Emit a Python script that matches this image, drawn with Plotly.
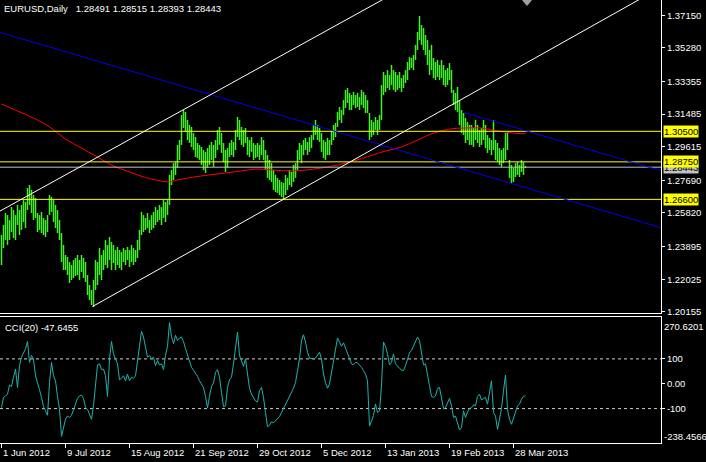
import plotly.graph_objects as go

# ---------------- data ----------------
high = [
1.2456,1.2513,1.2582,1.2570,1.2542,1.2616,1.2599,1.2570,1.2628,1.2599,
1.2628,1.2656,1.2645,1.2725,1.2742,1.2714,1.2685,1.2668,1.2582,1.2570,
1.2588,1.2553,1.2542,1.2570,1.2685,1.2674,1.2656,1.2628,1.2599,1.2542,
1.2467,1.2399,1.2341,1.2330,1.2301,1.2284,1.2313,1.2324,1.2341,1.2313,
1.2341,1.2324,1.2301,1.2226,1.2169,1.2141,1.2198,1.2313,1.2301,1.2381,
1.2341,1.2370,1.2427,1.2399,1.2444,1.2416,1.2399,1.2370,1.2387,1.2370,
1.2358,1.2381,1.2370,1.2387,1.2370,1.2399,1.2381,1.2370,1.2427,1.2485,
1.2588,1.2570,1.2553,1.2582,1.2542,1.2570,1.2588,1.2616,1.2599,1.2628,
1.2616,1.2656,1.2645,1.2656,1.2800,1.2828,1.2868,1.2874,1.2972,1.3000,
1.3143,1.3172,1.3161,1.3115,1.3086,1.3075,1.3040,1.3017,1.2983,1.2972,
1.2960,1.2943,1.2932,1.2954,1.2972,1.2989,1.2972,1.3000,1.3058,1.3075,
1.3040,1.2983,1.2943,1.2954,1.2983,1.3000,1.2989,1.3058,1.3132,1.3115,
1.3075,1.3058,1.3069,1.3017,1.3000,1.3017,1.2983,1.2972,1.2983,1.2972,
1.3017,1.3000,1.2943,1.2914,1.2886,1.2868,1.2828,1.2800,1.2783,1.2771,
1.2760,1.2754,1.2800,1.2783,1.2828,1.2817,1.2857,1.2868,1.2943,1.2983,
1.2972,1.3000,1.3012,1.2989,1.3017,1.3029,1.3086,1.3115,1.3086,1.3069,
1.3040,1.3000,1.2989,1.3012,1.3000,1.3058,1.3086,1.3098,1.3161,1.3189,
1.3172,1.3229,1.3287,1.3298,1.3270,1.3258,1.3275,1.3258,1.3270,1.3247,
1.3287,1.3275,1.3258,1.3229,1.3155,1.3115,1.3103,1.3132,1.3115,1.3143,
1.3315,1.3390,1.3373,1.3401,1.3373,1.3430,1.3401,1.3390,1.3373,1.3390,
1.3355,1.3373,1.3401,1.3447,1.3476,1.3470,1.3487,1.3545,1.3619,1.3711,
1.3659,1.3642,1.3602,1.3573,1.3516,1.3545,1.3470,1.3447,1.3459,1.3430,
1.3459,1.3430,1.3401,1.3413,1.3441,1.3401,1.3287,1.3270,1.3304,1.3229,
1.3172,1.3155,1.3126,1.3103,1.3086,1.3086,1.3069,1.3115,1.3086,1.3058,
1.3069,1.3115,1.3086,1.3029,1.3012,1.3000,1.3115,1.3000,1.2983,1.2954,
1.2943,1.2954,1.3040,1.3046,1.2886,1.2857,1.2840,1.2868,1.2874,1.2857,
1.2886,1.2874,1.28515]

low = [
1.2284,1.2381,1.2427,1.2399,1.2427,1.2473,1.2439,1.2427,1.2513,1.2456,
1.2485,1.2530,1.2496,1.2599,1.2628,1.2582,1.2542,1.2553,1.2473,1.2485,
1.2467,1.2456,1.2444,1.2473,1.2570,1.2588,1.2530,1.2496,1.2467,1.2427,
1.2301,1.2255,1.2255,1.2226,1.2181,1.2198,1.2209,1.2221,1.2226,1.2198,
1.2244,1.2209,1.2186,1.2112,1.2083,1.2055,1.2043,1.2141,1.2169,1.2226,
1.2198,1.2255,1.2284,1.2267,1.2313,1.2255,1.2295,1.2255,1.2284,1.2267,
1.2255,1.2301,1.2284,1.2313,1.2272,1.2301,1.2284,1.2301,1.2324,1.2370,
1.2456,1.2473,1.2485,1.2496,1.2467,1.2485,1.2496,1.2513,1.2530,1.2542,
1.2513,1.2553,1.2530,1.2570,1.2628,1.2742,1.2771,1.2800,1.2840,1.2886,
1.2972,1.3069,1.3046,1.3000,1.2983,1.2960,1.2943,1.2903,1.2897,1.2886,
1.2857,1.2828,1.2811,1.2840,1.2857,1.2886,1.2846,1.2897,1.2943,1.2972,
1.2926,1.2874,1.2817,1.2840,1.2903,1.2914,1.2903,1.2943,1.3017,1.3000,
1.2972,1.2960,1.2983,1.2914,1.2903,1.2932,1.2886,1.2897,1.2903,1.2886,
1.2914,1.2886,1.2828,1.2783,1.2771,1.2760,1.2714,1.2702,1.2697,1.2685,
1.2674,1.2662,1.2685,1.2714,1.2742,1.2731,1.2760,1.2783,1.2828,1.2886,
1.2868,1.2914,1.2943,1.2914,1.2932,1.2954,1.3000,1.3029,1.3000,1.2989,
1.2932,1.2897,1.2886,1.2914,1.2914,1.2972,1.3000,1.3017,1.3075,1.3115,
1.3098,1.3143,1.3183,1.3212,1.3172,1.3172,1.3201,1.3183,1.3189,1.3172,
1.3201,1.3183,1.3155,1.3155,1.3000,1.3017,1.3029,1.3058,1.3029,1.3058,
1.3115,1.3258,1.3275,1.3298,1.3287,1.3315,1.3287,1.3275,1.3287,1.3298,
1.3275,1.3298,1.3327,1.3344,1.3401,1.3413,1.3401,1.3459,1.3516,1.3573,
1.3545,1.3516,1.3487,1.3430,1.3373,1.3401,1.3355,1.3344,1.3361,1.3344,
1.3355,1.3315,1.3304,1.3315,1.3344,1.3270,1.3201,1.3172,1.3161,1.3086,
1.3040,1.3029,1.2983,1.3000,1.2972,1.2972,1.2960,1.3000,1.2983,1.2960,
1.2972,1.3000,1.2954,1.2926,1.2943,1.2914,1.2943,1.2886,1.2874,1.2857,
1.2846,1.2868,1.2886,1.2943,1.2783,1.2754,1.2760,1.2788,1.2800,1.2788,
1.2817,1.2800,1.28393]

cci = [
-96,-55,-49,-42,-5,-11,26,59,-15,73,
107,124,141,170,86,114,100,32,8,-24,
-55,-92,-109,-127,5,86,32,12,-51,-103,
-212,-175,-143,-130,-136,-127,-103,-82,-59,-49,
-46,-59,-96,-103,-127,-143,-89,5,76,80,
57,59,32,-51,100,170,120,100,80,16,
22,32,12,39,12,26,22,32,93,147,
211,188,154,107,114,100,107,73,93,76,
80,57,114,151,246,190,161,195,174,184,
188,170,141,116,93,66,54,43,30,12,
-5,-15,-51,-97,-51,-11,3,46,57,26,
-35,-92,-89,-15,16,26,80,141,208,114,
93,70,100,46,-19,-42,-59,-69,-73,-28,
-15,-55,-116,-173,-167,-154,-157,-150,-143,-132,
-116,-100,-82,-62,-46,-35,-18,5,53,100,
174,197,168,127,103,100,100,103,116,127,
100,39,5,-18,-1,46,107,154,184,168,
151,165,143,124,100,80,76,86,84,76,
66,53,39,12,-170,-150,-127,-82,-116,-109,
-8,168,151,120,76,86,120,80,70,62,
55,53,73,103,124,134,151,174,188,174,
120,76,80,26,-8,-51,-55,-49,-19,-15,
-62,-100,-96,-73,-59,-89,-136,-130,-159,-186,
-177,-109,-136,-113,-100,-96,-85,-89,-51,-42,
-65,-59,-55,-82,-38,12,-116,-130,-184,-143,
-100,-28,35,-103,-143,-163,-136,-116,-89,-82,
-62,-51,-47.6455]

ma_idx = [0, 8, 16, 24, 32, 40, 48, 56, 64, 72, 80, 84, 88, 96, 104, 112, 120, 128,
          136, 144, 152, 160, 168, 176, 184, 192, 200, 208, 216, 224, 232, 240, 248, 256, 262]
ma_val = [1.3206, 1.3166, 1.3126, 1.3075, 1.3006, 1.2954, 1.2903, 1.2851, 1.2817, 1.2785,
          1.2765, 1.2760, 1.2771, 1.2788, 1.2800, 1.2811, 1.2823, 1.2834, 1.2828, 1.2823,
          1.2828, 1.2840, 1.2857, 1.2880, 1.2908, 1.2937, 1.2960, 1.3000, 1.3040, 1.3063,
          1.3069, 1.3069, 1.3052, 1.3040, 1.3035]

# trendline anchors (bar index, price)
blue1_x, blue1_y = [-0.75, 329.75], [1.3617, 1.2498]
blue2_x, blue2_y = [231.5, 329.75], [1.3157, 1.2824]
white1_x, white1_y = [-0.75, 199.5], [1.2593, 1.3861]
white2_x, white2_y = [45.5, 329.75], [1.2046, 1.3875]

hlines = [1.30500, 1.28750, 1.26600]
bid = 1.28443

price_ticks = [1.37150, 1.35280, 1.33355, 1.31485, 1.29615, 1.27690, 1.25820, 1.23895, 1.22025, 1.20155]
date_pos = [0, 32, 64, 96, 128, 160, 192, 224, 256]
date_lab = ["1 Jun 2012", "9 Jul 2012", "15 Aug 2012", "21 Sep 2012", "29 Oct 2012",
            "5 Dec 2012", "13 Jan 2013", "19 Feb 2013", "28 Mar 2013"]
cci_ticks = [100, 0, -100]
cci_ticktext = ["100", "0.00", "-100"]
cci_max, cci_min = 270.6201, -238.4566
title_txt = "EURUSD,Daily\u00a0\u00a0 1.28491 1.28515 1.28393 1.28443"
cci_txt = "CCI(20) -47.6455"

# ---------------- figure ----------------
W, H = 706, 462
ML, MR, MT, MB = 0, 45, 0, 19
PH = H - MT - MB  # 443
main_dom = [(PH - 313.5) / PH, 1.0]
cci_dom = [0.0, (PH - 316.5) / PH]
XR = [-0.75, 329.75]   # 2 px per bar, bars centred on half pixels
YR = [1.2006, 1.38024]

FONT = "Liberation Sans"
FS = 9.5
GREEN = "#40f020"

idx = list(range(len(high)))
fig = go.Figure()

# price bars: one vertical high-low segment per bar
bx, by = [], []
for i, h, l in zip(idx, high, low):
    bx += [i, i, None]
    by += [l, h, None]
fig.add_trace(go.Scatter(x=bx, y=by, mode="lines", line=dict(color=GREEN, width=1.5),
                         connectgaps=False, xaxis="x", yaxis="y", hoverinfo="skip"))

fig.add_trace(go.Scatter(x=ma_idx, y=ma_val, mode="lines", line=dict(color="#ff0000", width=1, shape="spline"),
                         xaxis="x", yaxis="y", hoverinfo="skip"))

for p in hlines:
    fig.add_trace(go.Scatter(x=XR, y=[p, p], mode="lines", line=dict(color="#ffff00", width=1),
                             xaxis="x", yaxis="y", hoverinfo="skip"))
fig.add_trace(go.Scatter(x=XR, y=[bid, bid], mode="lines", line=dict(color="#c0c0c0", width=1),
                         xaxis="x", yaxis="y", hoverinfo="skip"))

for lx, ly, col in [(blue1_x, blue1_y, "#0000ee"), (blue2_x, blue2_y, "#0000ee"),
                    (white1_x, white1_y, "#ffffff"), (white2_x, white2_y, "#ffffff")]:
    fig.add_trace(go.Scatter(x=lx, y=ly, mode="lines", line=dict(color=col, width=1),
                             xaxis="x", yaxis="y", hoverinfo="skip"))

# CCI panel
for lv in [100, -100]:
    fig.add_trace(go.Scatter(x=XR, y=[lv, lv], mode="lines",
                             line=dict(color="#d0d0d0", width=1, dash="3px,3px"),
                             xaxis="x", yaxis="y2", hoverinfo="skip"))
fig.add_trace(go.Scatter(x=idx, y=cci, mode="lines", line=dict(color="#20b2aa", width=1),
                         xaxis="x", yaxis="y2", hoverinfo="skip"))

ann = []
ann.append(dict(text=title_txt, xref="paper", yref="paper", x=0, y=(PH - 8.5) / PH,
                xanchor="left", yanchor="middle", xshift=2, showarrow=False,
                font=dict(color="white", size=FS, family=FONT)))
ann.append(dict(text=cci_txt, xref="paper", yref="paper", x=0, y=(PH - 327) / PH,
                xanchor="left", yanchor="middle", xshift=3, showarrow=False,
                font=dict(color="white", size=FS, family=FONT)))
for pos, lab in zip(date_pos, date_lab):
    ann.append(dict(text=lab, xref="x", yref="paper", x=pos, y=(PH - 452.5) / PH,
                    xanchor="left", yanchor="middle", xshift=-1, showarrow=False,
                    font=dict(color="white", size=FS, family=FONT)))
# price labels of the levels
ann.append(dict(text=f"{bid:.5f}", xref="paper", yref="y", x=1, y=bid, xanchor="left",
                yanchor="middle", xshift=2, showarrow=False, bgcolor="#c0c0c0", borderpad=0,
                font=dict(color="black", size=FS, family=FONT)))
for p in hlines:
    ann.append(dict(text=f"{p:.5f}", xref="paper", yref="y", x=1, y=p, xanchor="left",
                    yanchor="middle", xshift=2, showarrow=False, bgcolor="#ffff00", borderpad=0,
                    font=dict(color="black", size=FS, family=FONT)))
ann.append(dict(text=f"{cci_max:.4f}", xref="paper", yref="paper", x=1, y=(PH - 326.5) / PH,
                xanchor="left", yanchor="middle", xshift=1, showarrow=False,
                font=dict(color="white", size=FS, family=FONT)))
ann.append(dict(text=f"{cci_min:.4f}", xref="paper", yref="paper", x=1, y=(PH - 436.5) / PH,
                xanchor="left", yanchor="middle", xshift=1, showarrow=False,
                font=dict(color="white", size=FS, family=FONT)))

shapes = [
    dict(type="line", xref="paper", yref="paper", x0=0, x1=1, y0=main_dom[0], y1=main_dom[0],
         line=dict(color="white", width=1)),
    dict(type="path", xref="paper", yref="paper",
         path=f"M {522/661} 1 L {532/661} 1 L {527/661} {(PH-6)/PH} Z",
         fillcolor="#a0a0a0", line=dict(width=0)),
]

fig.update_layout(
    width=W, height=H, margin=dict(l=ML, r=MR, t=MT, b=MB, pad=0),
    paper_bgcolor="black", plot_bgcolor="black", showlegend=False,
    annotations=ann, shapes=shapes,
    font=dict(family=FONT, size=FS, color="white"),
    xaxis=dict(domain=[0, 1], range=XR, anchor="y2", showgrid=False, zeroline=False,
               tickmode="array", tickvals=date_pos, ticks="outside", ticklen=4, tickcolor="white",
               showticklabels=False, showline=True, linecolor="white", linewidth=1, mirror=True),
    yaxis=dict(domain=main_dom, range=YR, side="right", anchor="x", showgrid=False, zeroline=False,
               tickmode="array", tickvals=price_ticks, ticktext=[f"{v:.5f}" for v in price_ticks],
               ticks="outside", ticklen=3, tickcolor="white", showline=True, linecolor="white",
               linewidth=1, ticklabelstandoff=0, tickfont=dict(color="white", size=FS, family=FONT)),
    yaxis2=dict(domain=cci_dom, range=[cci_min, cci_max], side="right", anchor="x", showgrid=False,
                zeroline=False, tickmode="array", tickvals=cci_ticks, ticktext=cci_ticktext,
                ticks="outside", ticklen=3, tickcolor="white", showline=True, linecolor="white",
                linewidth=1, mirror=True, ticklabelstandoff=0,
                tickfont=dict(color="white", size=FS, family=FONT)),
)

fig.write_html("out.html", config={"displayModeBar": False},
               post_script="document.body.style.margin='0';document.body.style.padding='0';"
                           "document.body.style.background='black';")
